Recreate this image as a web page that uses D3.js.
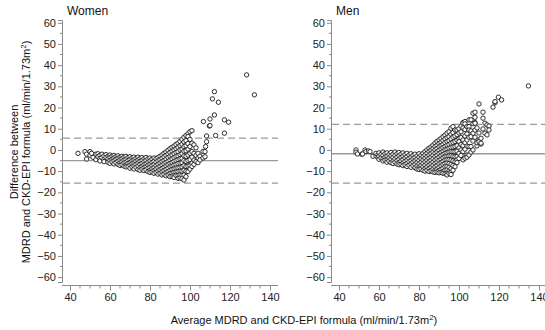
<!DOCTYPE html>
<html>
<head>
<meta charset="utf-8">
<script src="https://cdn.jsdelivr.net/npm/d3@7"></script>
<style>
  body { margin: 0; background: #fff; }
  svg { font-family: "Liberation Sans", Arial, sans-serif; }
</style>
</head>
<body>
<div id="chart"></div>
<script>
// Bland-Altman data: [average, [differences...]]
const womenPts = [
  [44, [-1.6]], [47.5, [-0.8]], [48.3, [-4.3, -2.0]], [50, [-0.8, -2.5]], [50.8, [-1.6]], [51.5, [-3.5]],
  [53, [-2.0, -4.6]], [54, [-1.8, -3.2]], [55, [-2.5, -4.0, -5.2]], [56, [-2.0, -3.6]],
  [57, [-2.8, -4.5, -5.5]], [58, [-2.2, -3.5]], [59, [-3.0, -4.2, -5.8]], [60, [-2.4, -3.6, -5.0, -6.3]],
  [61, [-3.0, -4.4, -5.6]], [62, [-2.6, -3.8, -5.2, -6.6]], [63, [-3.2, -4.4, -6.0]], [64, [-2.8, -4.0, -5.4, -6.8]],
  [65, [-3.4, -4.7, -6.2, -7.3]], [66, [-3.0, -4.2, -5.6, -7.0]], [67, [-3.4, -4.8, -6.2, -7.6]],
  [68, [-3.0, -4.4, -5.8, -7.2, -8.0]], [69, [-3.6, -5.0, -6.4, -7.8]], [70, [-3.2, -4.5, -6.0, -7.2, -8.6]],
  [71, [-3.8, -5.2, -6.6, -8.0]], [72, [-3.4, -4.8, -6.2, -7.6, -9.0]], [73, [-4.0, -5.4, -6.8, -8.2]],
  [74, [-3.4, -4.8, -6.2, -7.6, -9.2]], [75, [-4.0, -5.4, -6.8, -8.4, -9.6]], [76, [-3.6, -5.0, -6.4, -7.8, -9.0]],
  [77, [-4.2, -5.6, -7.0, -8.4, -9.8]], [78, [-3.6, -5.0, -6.6, -8.0, -9.4]], [79, [-4.2, -5.8, -7.2, -8.6, -10.2]],
  [80, [-3.8, -5.2, -6.8, -8.2, -9.6, -10.6]], [81, [-4.4, -6.0, -7.4, -9.0, -10.4]],
  [82, [-3.8, -5.4, -7.0, -8.4, -9.8, -11.0]], [83, [-4.2, -5.8, -7.4, -9.0, -10.6]],
  [84, [-3.6, -5.2, -6.8, -8.4, -10.0, -11.4]], [85, [-3.0, -4.6, -6.2, -7.8, -9.4, -11.0]],
  [86, [-2.4, -4.0, -5.6, -7.2, -8.8, -10.4, -11.8]], [87, [-1.6, -3.2, -5.0, -6.6, -8.2, -9.8, -11.4]],
  [88, [-1.0, -2.6, -4.4, -6.0, -7.6, -9.2, -10.8, -12.2]], [89, [-0.2, -2.0, -3.6, -5.4, -7.0, -8.6, -10.2, -11.8]],
  [90, [0.6, -1.2, -3.0, -4.8, -6.4, -8.0, -9.6, -11.2, -12.6]], [91, [1.2, -0.6, -2.4, -4.2, -6.0, -7.6, -9.2, -11.0, -12.4]],
  [92, [1.8, 0.0, -1.8, -3.6, -5.4, -7.2, -9.0, -10.6, -12.2, -13.0]], [93, [2.6, 0.6, -1.2, -3.0, -5.0, -6.8, -8.6, -10.4, -12.0]],
  [94, [3.2, 1.2, -0.8, -2.8, -4.6, -6.4, -8.4, -10.2, -12.0, -13.4]], [95, [4.0, 2.0, 0.0, -2.2, -4.2, -6.2, -8.2, -10.0, -11.8, -13.2]],
  [96, [5.0, 2.6, 0.4, -1.8, -4.0, -6.0, -8.0, -10.0, -12.0, -13.6]], [97, [6.0, 3.8, 1.6, -0.6, -2.8, -5.0, -7.4, -9.6, -11.8, -14.2]],
  [98, [6.8, 4.4, 2.0, -0.4, -3.0, -5.4, -7.8, -10.0, -12.6]], [99, [7.6, 6.3, 3.0, 0.4, -2.4, -5.0, -7.6, -10.2]],
  [100, [8.6, 5.0, 1.6, -1.6, -4.6, -7.4, -9.0]], [101, [9.1, 3.2, -0.8, -3.4, -6.2, -7.8]],
  [102, [2.4, -1.6, -4.8, -6.8]], [103, [1.0, -2.6, -5.5]], [104, [-1.6, -3.8, -6.0]], [105, [-3.0, -4.7]],
  [106.5, [-0.7, -3.8]], [107.5, [-0.8, -3.2]], [107.8, [1.6]], [108.3, [6.6, 3.9]], [106.7, [13.4]],
  [109.7, [11.3]], [110, [14.6, 11.5]], [111.2, [24.1]], [112.2, [27.5, 16.5]], [112.8, [6.8]], [114.2, [22.5]],
  [117.2, [14.2, 7.9]], [119.3, [13.1]], [128.3, [35.4]], [132.2, [26.0]]
];

const menPts = [
  [48.5, [0.0, -1.1]], [49.2, [-1.9]], [51.3, [-2.0]], [51.8, [-1.9]], [53, [0.0]], [53.5, [-0.8]], [54.7, [-0.5]], [55.5, [-0.8]],
  [57, [-3.0]], [58.5, [-2.8, -1.6]], [59.5, [-3.6, -2.2]], [60, [-1.4, -3.0, -4.4]], [61, [-2.2, -3.8]],
  [62, [-1.0, -2.6, -4.2, -5.2]], [63, [-1.8, -3.4, -4.8]], [64, [-1.4, -3.0, -4.6, -5.8]], [65, [-2.2, -3.8, -5.2]],
  [66, [-1.2, -2.8, -4.4, -6.0]], [67, [-2.0, -3.6, -5.2, -6.4]], [68, [-1.0, -2.6, -4.2, -5.8]], [69, [-1.8, -3.4, -5.0, -6.6]],
  [70, [-1.2, -2.8, -4.4, -6.0, -7.0]], [71, [-2.0, -3.6, -5.2, -6.8]], [72, [-1.4, -3.0, -4.6, -6.2, -7.4]],
  [73, [-2.2, -3.8, -5.4, -7.0]], [74, [-1.6, -3.2, -4.8, -6.4, -7.8]], [75, [-2.4, -4.0, -5.6, -7.2]],
  [76, [-1.8, -3.4, -5.0, -6.6, -8.2]], [77, [-2.6, -4.2, -5.8, -7.4]], [78, [-2.0, -3.6, -5.2, -6.8, -8.4]],
  [79, [-2.8, -4.4, -6.0, -7.6, -9.0]], [80, [-1.8, -3.4, -5.0, -6.6, -8.2, -9.2]], [81, [-2.6, -4.2, -5.8, -7.4, -9.0]],
  [82, [-1.6, -3.2, -4.8, -6.4, -8.0, -9.6]], [83, [-0.8, -2.4, -4.0, -5.6, -7.2, -8.8, -10.0]],
  [84, [0.0, -1.6, -3.2, -4.8, -6.4, -8.0, -9.6]], [85, [0.8, -0.8, -2.4, -4.0, -5.6, -7.2, -8.8, -10.2]],
  [86, [1.4, -0.2, -1.8, -3.4, -5.0, -6.6, -8.2, -9.8]], [87, [2.2, 0.6, -1.0, -2.6, -4.2, -5.8, -7.4, -9.0, -10.4]],
  [88, [3.2, 1.6, 0.0, -1.6, -3.2, -4.8, -6.4, -8.0, -9.6, -10.6]], [89, [4.0, 2.2, 0.6, -1.0, -2.6, -4.2, -5.8, -7.4, -9.0, -10.4]],
  [90, [4.7, 3.0, 1.4, -0.2, -1.8, -3.4, -5.0, -6.6, -8.2, -9.8, -10.8]],
  [91, [5.4, 3.6, 2.0, 0.4, -1.2, -2.8, -4.4, -6.0, -7.6, -9.2, -10.6]],
  [92, [6.3, 4.4, 2.6, 1.0, -0.6, -2.2, -3.8, -5.4, -7.0, -8.6, -10.2, -11.0]],
  [93, [7.0, 5.2, 3.4, 1.6, 0.0, -1.6, -3.2, -4.8, -6.4, -8.0, -9.6, -11.2]],
  [94, [7.9, 5.8, 4.0, 2.2, 0.4, -1.4, -3.0, -4.6, -6.2, -7.8, -9.4, -11.0, -11.8]],
  [95, [8.6, 6.3, 4.4, 2.6, 0.8, -1.0, -2.8, -4.6, -6.4, -8.2, -10.0, -11.0]],
  [96, [10.2, 7.4, 5.2, 3.2, 1.2, -0.8, -2.8, -4.8, -6.8, -8.8, -10.6, -11.6]],
  [97, [11.0, 8.2, 6.0, 3.6, 1.4, -0.8, -3.0, -5.2, -7.4, -9.6]],
  [98, [9.4, 6.6, 4.0, 1.6, -0.8, -3.2, -5.6, -7.9]], [99, [9.4, 7.2, 4.6, 2.0, -0.6, -3.2, -4.7, -6.0]],
  [100, [10.0, 8.0, 5.2, 3.9, 1.0, -1.6, -4.0]], [101, [11.2, 8.6, 5.8, 2.6, 0.0, -2.6]],
  [102, [12.9, 12.6, 10.4, 4.7, 2.0, -0.8, -4.7]], [103, [13.4, 12.3, 9.6, 6.6, 3.4, 0.4, -3.9]],
  [104, [11.0, 7.6, 4.7, 1.8, -2.4, -3.4]], [105, [14.2, 11.0, 9.4, 6.0, 1.6, -2.4]],
  [106, [14.2, 9.0, 6.3, 1.6, -1.0]], [107, [17.3, 12.4, 7.9, 4.2, 0.0]], [108, [17.8, 15.4, 12.9, 12.6, 9.4, 6.0]],
  [109, [10.4, 1.9, 3.4]], [110, [21.7, 4.7, 3.9, 8.0]], [111, [5.5, 2.8, 3.2]], [112, [17.8, 15.0, 9.9]],
  [113, [12.6, 7.9]], [114, [11.8, 7.1]], [115, [11.3, 9.4]], [117, [20.2]], [118, [22.3, 22.8]],
  [119.7, [24.9]], [121.3, [23.6]], [134.7, [30.2]]
];

// mean difference and limits of agreement
const womenLines = { mean: -5.05, lower: -15.7, upper: 5.6 };
const menLines = { mean: -1.8, lower: -15.7, upper: 12.1 };

const yTicks = d3.range(-60, 61, 10);
const xTicks = d3.range(40, 141, 20);

const W = 545, H = 330;
const svg = d3.select('#chart').append('svg').attr('width', W).attr('height', H);

const y = d3.scaleLinear().domain([-62.3, 61.3]).range([282, 20]);
const axisGrey = '#8a8a8a';

function panel(left, title, pts, lines) {
  const x = d3.scaleLinear().domain([36, 144]).range([left, left + 216]);
  const g = svg.append('g');

  // y axis, gap-separated from the x axis
  const yAxis = d3.axisLeft(y).tickValues(yTicks).tickSize(4).tickPadding(2);
  const yg = g.append('g').attr('transform', `translate(${left},0)`).call(yAxis);
  yg.selectAll('.tick line').attr('stroke', axisGrey);
  yg.select('.domain').attr('stroke', axisGrey);
  yg.selectAll('.tick text').attr('font-size', 11).attr('fill', '#222');
  yg.selectAll('.minor').data(d3.range(-55, 60, 10)).enter().append('line')
    .attr('x1', 0).attr('x2', -2).attr('y1', d => y(d)).attr('y2', d => y(d))
    .attr('stroke', axisGrey);

  // x axis
  const xAxis = d3.axisBottom(x).tickValues(xTicks).tickSize(5).tickSizeOuter(0).tickPadding(3);
  const xg = g.append('g').attr('transform', 'translate(0,285.5)').call(xAxis);
  xg.select('.domain').attr('stroke', axisGrey).attr('d', `M${left},0H${left + 216}`);
  xg.selectAll('.tick line').attr('stroke', axisGrey);
  xg.selectAll('.tick text').attr('font-size', 11).attr('fill', '#222');
  xg.selectAll('.minor').data(d3.range(40, 145, 5).filter(v => v % 20)).enter().append('line')
    .attr('x1', d => x(d)).attr('x2', d => x(d)).attr('y1', 0).attr('y2', 3)
    .attr('stroke', axisGrey);

  // reference lines
  const ref = [
    { v: lines.upper, dash: '7,4' },
    { v: lines.mean, dash: null },
    { v: lines.lower, dash: '7,4' }
  ];
  g.selectAll('.ref').data(ref).enter().append('line')
    .attr('x1', left + 1).attr('x2', left + 216)
    .attr('y1', d => y(d.v)).attr('y2', d => y(d.v))
    .attr('stroke', '#999').attr('stroke-width', 1.3)
    .attr('stroke-dasharray', d => d.dash);

  // points
  const flat = pts.flatMap(([a, ds]) => ds.map(d => [a, d]));
  g.selectAll('circle').data(flat).enter().append('circle')
    .attr('cx', d => x(d[0])).attr('cy', d => y(d[1])).attr('r', 2.2)
    .attr('fill', '#fff').attr('stroke', '#1a1a1a').attr('stroke-width', 0.9);

  g.append('text').attr('x', left + 5).attr('y', 15)
    .attr('font-size', 12).attr('fill', '#111').text(title);
}

panel(62, 'Women', womenPts, womenLines);
panel(331, 'Men', menPts, menLines);

// y title (two lines)
const yt = svg.append('text').attr('transform', 'translate(18,152) rotate(-90)')
  .attr('text-anchor', 'middle').attr('font-size', 11).attr('fill', '#111');
yt.append('tspan').attr('x', 0).attr('y', 0).text('Difference between');
yt.append('tspan').attr('x', 0).attr('y', 12).text('MDRD and CKD-EPI formula (ml/min/1.73m');
yt.append('tspan').attr('dy', -4).attr('font-size', 8).text('2');
yt.append('tspan').attr('dy', 4).text(')');

// x title
const xt = svg.append('text').attr('x', 304).attr('y', 324)
  .attr('text-anchor', 'middle').attr('font-size', 11).attr('fill', '#111');
xt.append('tspan').text('Average MDRD and CKD-EPI formula (ml/min/1.73m');
xt.append('tspan').attr('dy', -4).attr('font-size', 8).text('2');
xt.append('tspan').attr('dy', 4).text(')');
</script>
</body>
</html>
